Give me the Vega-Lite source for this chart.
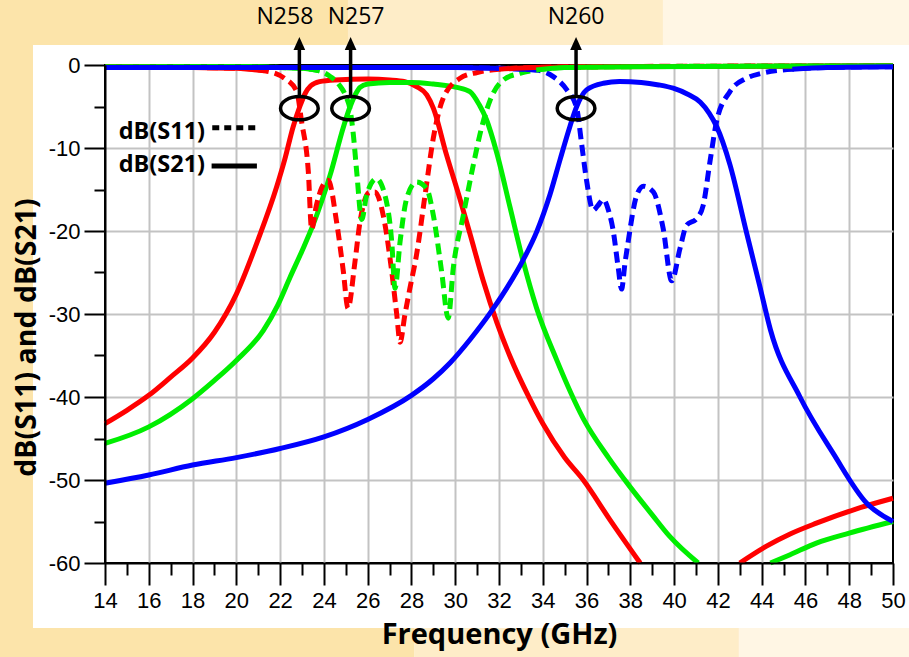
{
  "$schema": "https://vega.github.io/schema/vega-lite/v6.json",
  "width": 788,
  "height": 498,
  "autosize": {"type": "none"},
  "padding": {"left": 105, "top": 65, "right": 16, "bottom": 94},
  "background": "white",
  "config": {"view": {"stroke": "black", "strokeWidth": 2, "fill": null}},
  "datasets": {
    "one": [{}],
    "s21": [
      {"b":"N258","s":"a","f":14,"db":-43.2},{"b":"N258","s":"a","f":15,"db":-41.6},{"b":"N258","s":"a","f":16,"db":-39.8},{"b":"N258","s":"a","f":17,"db":-37.6},{"b":"N258","s":"a","f":18,"db":-35.3},{"b":"N258","s":"a","f":19,"db":-32.2},{"b":"N258","s":"a","f":20,"db":-27.6},{"b":"N258","s":"a","f":21,"db":-21.0},{"b":"N258","s":"a","f":21.84,"db":-14.7},{"b":"N258","s":"a","f":22.2,"db":-11.5},{"b":"N258","s":"a","f":22.6,"db":-7.4},{"b":"N258","s":"a","f":22.9,"db":-5.0},{"b":"N258","s":"a","f":23.15,"db":-3.4},{"b":"N258","s":"a","f":23.4,"db":-2.5},{"b":"N258","s":"a","f":23.8,"db":-2.0},{"b":"N258","s":"a","f":24.5,"db":-1.8},{"b":"N258","s":"a","f":26,"db":-1.7},{"b":"N258","s":"a","f":27,"db":-1.8},{"b":"N258","s":"a","f":27.7,"db":-2.0},{"b":"N258","s":"a","f":28.23,"db":-2.6},{"b":"N258","s":"a","f":28.7,"db":-3.6},{"b":"N258","s":"a","f":29.0,"db":-5.2},{"b":"N258","s":"a","f":29.6,"db":-10.8},{"b":"N258","s":"a","f":30.2,"db":-16.0},{"b":"N258","s":"a","f":30.67,"db":-20.3},{"b":"N258","s":"a","f":31.28,"db":-26.0},{"b":"N258","s":"a","f":31.9,"db":-31.0},{"b":"N258","s":"a","f":32.5,"db":-35.1},{"b":"N258","s":"a","f":33.4,"db":-40.2},{"b":"N258","s":"a","f":34.0,"db":-43.2},{"b":"N258","s":"a","f":35.0,"db":-47.3},{"b":"N258","s":"a","f":35.85,"db":-50.0},{"b":"N258","s":"a","f":37.07,"db":-54.8},{"b":"N258","s":"a","f":38.45,"db":-60},
      {"b":"N258","s":"b","f":43.0,"db":-60},{"b":"N258","s":"b","f":44.2,"db":-58},{"b":"N258","s":"b","f":45.3,"db":-56.5},{"b":"N258","s":"b","f":46.5,"db":-55.2},{"b":"N258","s":"b","f":48.3,"db":-53.5},{"b":"N258","s":"b","f":50,"db":-52.2},
      {"b":"N257","s":"a","f":14,"db":-45.6},{"b":"N257","s":"a","f":16,"db":-43.6},{"b":"N257","s":"a","f":18,"db":-40.2},{"b":"N257","s":"a","f":19,"db":-38.0},{"b":"N257","s":"a","f":20,"db":-35.6},{"b":"N257","s":"a","f":21.23,"db":-32.0},{"b":"N257","s":"a","f":21.9,"db":-28.9},{"b":"N257","s":"a","f":22.45,"db":-25.6},{"b":"N257","s":"a","f":23.0,"db":-22.4},{"b":"N257","s":"a","f":23.5,"db":-19.3},{"b":"N257","s":"a","f":24.28,"db":-13.3},{"b":"N257","s":"a","f":24.9,"db":-7.4},{"b":"N257","s":"a","f":25.2,"db":-5.0},{"b":"N257","s":"a","f":25.45,"db":-3.5},{"b":"N257","s":"a","f":25.65,"db":-2.7},{"b":"N257","s":"a","f":26,"db":-2.3},{"b":"N257","s":"a","f":27,"db":-2.1},{"b":"N257","s":"a","f":28,"db":-2.1},{"b":"N257","s":"a","f":29,"db":-2.3},{"b":"N257","s":"a","f":30.07,"db":-2.7},{"b":"N257","s":"a","f":30.67,"db":-3.2},{"b":"N257","s":"a","f":31.1,"db":-4.8},{"b":"N257","s":"a","f":31.43,"db":-6.6},{"b":"N257","s":"a","f":31.9,"db":-10.6},{"b":"N257","s":"a","f":32.5,"db":-17.1},{"b":"N257","s":"a","f":33.1,"db":-23.6},{"b":"N257","s":"a","f":33.72,"db":-29.3},{"b":"N257","s":"a","f":34.63,"db":-35.5},{"b":"N257","s":"a","f":35.85,"db":-42.6},{"b":"N257","s":"a","f":37.0,"db":-47.3},{"b":"N257","s":"a","f":37.98,"db":-50.8},{"b":"N257","s":"a","f":39.0,"db":-54.2},{"b":"N257","s":"a","f":39.8,"db":-56.8},{"b":"N257","s":"a","f":41.1,"db":-60},
      {"b":"N257","s":"b","f":44.4,"db":-60},{"b":"N257","s":"b","f":45.3,"db":-59},{"b":"N257","s":"b","f":46.5,"db":-57.6},{"b":"N257","s":"b","f":48,"db":-56.4},{"b":"N257","s":"b","f":50,"db":-55.0},
      {"b":"N260","s":"a","f":14,"db":-50.4},{"b":"N260","s":"a","f":16,"db":-49.4},{"b":"N260","s":"a","f":18,"db":-48.2},{"b":"N260","s":"a","f":20,"db":-47.3},{"b":"N260","s":"a","f":22,"db":-46.2},{"b":"N260","s":"a","f":24,"db":-44.8},{"b":"N260","s":"a","f":26,"db":-42.7},{"b":"N260","s":"a","f":28,"db":-39.8},{"b":"N260","s":"a","f":29,"db":-37.8},{"b":"N260","s":"a","f":29.76,"db":-35.9},{"b":"N260","s":"a","f":30.67,"db":-33.1},{"b":"N260","s":"a","f":31.59,"db":-29.9},{"b":"N260","s":"a","f":32.65,"db":-25.6},{"b":"N260","s":"a","f":33.1,"db":-23.5},{"b":"N260","s":"a","f":33.72,"db":-20.1},{"b":"N260","s":"a","f":34.33,"db":-15.6},{"b":"N260","s":"a","f":34.79,"db":-11.4},{"b":"N260","s":"a","f":35.24,"db":-7.4},{"b":"N260","s":"a","f":35.55,"db":-5.0},{"b":"N260","s":"a","f":36.0,"db":-3.0},{"b":"N260","s":"a","f":36.77,"db":-2.2},{"b":"N260","s":"a","f":37.5,"db":-2.0},{"b":"N260","s":"a","f":38.5,"db":-2.1},{"b":"N260","s":"a","f":39.3,"db":-2.4},{"b":"N260","s":"a","f":39.96,"db":-2.8},{"b":"N260","s":"a","f":40.6,"db":-3.5},{"b":"N260","s":"a","f":41.2,"db":-4.5},{"b":"N260","s":"a","f":41.6,"db":-5.8},{"b":"N260","s":"a","f":41.94,"db":-7.4},{"b":"N260","s":"a","f":42.55,"db":-12.0},{"b":"N260","s":"a","f":43.3,"db":-20.1},{"b":"N260","s":"a","f":43.9,"db":-26.5},{"b":"N260","s":"a","f":44.4,"db":-31.9},{"b":"N260","s":"a","f":45.75,"db":-40.0},{"b":"N260","s":"a","f":47.27,"db":-46.8},{"b":"N260","s":"a","f":48.8,"db":-52.8},{"b":"N260","s":"a","f":50,"db":-55.0}
    ],
    "s11": [
      {"b":"N258","f":14,"db":-0.2},{"b":"N258","f":18,"db":-0.3},{"b":"N258","f":20,"db":-0.4},{"b":"N258","f":21.3,"db":-0.7},{"b":"N258","f":22.2,"db":-1.6},{"b":"N258","f":22.76,"db":-3.2},{"b":"N258","f":22.98,"db":-6.8},{"b":"N258","f":23.29,"db":-12.9},{"b":"N258","f":23.44,"db":-19.8},{"b":"N258","f":23.65,"db":-17.0},{"b":"N258","f":23.9,"db":-14.8},{"b":"N258","f":24.2,"db":-13.9},{"b":"N258","f":24.58,"db":-18.9},{"b":"N258","f":24.89,"db":-24.9},{"b":"N258","f":25.1,"db":-29.3},{"b":"N258","f":25.42,"db":-23.7},{"b":"N258","f":25.65,"db":-18.9},{"b":"N258","f":26.1,"db":-15.3},{"b":"N258","f":26.33,"db":-15.3},{"b":"N258","f":26.71,"db":-18.1},{"b":"N258","f":27.1,"db":-24.9},{"b":"N258","f":27.33,"db":-30.1},{"b":"N258","f":27.48,"db":-33.4},{"b":"N258","f":27.7,"db":-30.1},{"b":"N258","f":27.93,"db":-26.9},{"b":"N258","f":28.23,"db":-22.9},{"b":"N258","f":28.62,"db":-15.7},{"b":"N258","f":29.0,"db":-8.8},{"b":"N258","f":29.45,"db":-4.0},{"b":"N258","f":30.22,"db":-1.6},{"b":"N258","f":31.0,"db":-0.9},{"b":"N258","f":32,"db":-0.5},{"b":"N258","f":33.57,"db":-0.3},{"b":"N258","f":36,"db":-0.2},{"b":"N258","f":50,"db":-0.1},
      {"b":"N257","f":14,"db":-0.2},{"b":"N257","f":20,"db":-0.2},{"b":"N257","f":22,"db":-0.3},{"b":"N257","f":23,"db":-0.4},{"b":"N257","f":23.8,"db":-0.7},{"b":"N257","f":24.3,"db":-1.4},{"b":"N257","f":24.7,"db":-2.4},{"b":"N257","f":25.04,"db":-4.0},{"b":"N257","f":25.2,"db":-5.4},{"b":"N257","f":25.35,"db":-8.5},{"b":"N257","f":25.5,"db":-12.9},{"b":"N257","f":25.73,"db":-18.6},{"b":"N257","f":25.95,"db":-15.7},{"b":"N257","f":26.4,"db":-13.7},{"b":"N257","f":26.79,"db":-15.7},{"b":"N257","f":27.1,"db":-21.3},{"b":"N257","f":27.25,"db":-26.9},{"b":"N257","f":27.48,"db":-21.3},{"b":"N257","f":27.78,"db":-16.1},{"b":"N257","f":28.23,"db":-14.1},{"b":"N257","f":28.7,"db":-14.9},{"b":"N257","f":29.0,"db":-18.1},{"b":"N257","f":29.38,"db":-24.9},{"b":"N257","f":29.68,"db":-30.5},{"b":"N257","f":29.91,"db":-24.5},{"b":"N257","f":30.37,"db":-18.1},{"b":"N257","f":30.83,"db":-12.0},{"b":"N257","f":31.2,"db":-7.6},{"b":"N257","f":31.6,"db":-4.2},{"b":"N257","f":32.2,"db":-1.8},{"b":"N257","f":32.96,"db":-1.0},{"b":"N257","f":33.7,"db":-0.6},{"b":"N257","f":35,"db":-0.3},{"b":"N257","f":38,"db":-0.2},{"b":"N257","f":50,"db":-0.1},
      {"b":"N260","f":14,"db":-0.3},{"b":"N260","f":20,"db":-0.3},{"b":"N260","f":30,"db":-0.3},{"b":"N260","f":32,"db":-0.4},{"b":"N260","f":33.2,"db":-0.5},{"b":"N260","f":33.72,"db":-0.6},{"b":"N260","f":34.48,"db":-1.4},{"b":"N260","f":35.1,"db":-3.0},{"b":"N260","f":35.55,"db":-5.2},{"b":"N260","f":35.77,"db":-9.4},{"b":"N260","f":36.0,"db":-13.9},{"b":"N260","f":36.3,"db":-17.5},{"b":"N260","f":36.5,"db":-17.0},{"b":"N260","f":36.77,"db":-16.2},{"b":"N260","f":37.0,"db":-17.5},{"b":"N260","f":37.22,"db":-20.0},{"b":"N260","f":37.45,"db":-24.5},{"b":"N260","f":37.6,"db":-27.0},{"b":"N260","f":37.75,"db":-24.0},{"b":"N260","f":37.9,"db":-21.3},{"b":"N260","f":38.29,"db":-15.7},{"b":"N260","f":38.6,"db":-14.6},{"b":"N260","f":39.05,"db":-15.3},{"b":"N260","f":39.5,"db":-19.7},{"b":"N260","f":39.89,"db":-26.0},{"b":"N260","f":40.27,"db":-22.1},{"b":"N260","f":40.57,"db":-19.3},{"b":"N260","f":41.03,"db":-18.5},{"b":"N260","f":41.33,"db":-16.9},{"b":"N260","f":41.64,"db":-11.6},{"b":"N260","f":41.94,"db":-6.8},{"b":"N260","f":42.55,"db":-3.2},{"b":"N260","f":43.3,"db":-1.6},{"b":"N260","f":44,"db":-1.0},{"b":"N260","f":45.4,"db":-0.5},{"b":"N260","f":47,"db":-0.3},{"b":"N260","f":50,"db":-0.2}
    ],
    "marks": [
      {"label":"N258","f":22.88,"db":-5.2,"tf":22.22},
      {"label":"N257","f":25.22,"db":-5.2,"tf":25.47},
      {"label":"N260","f":35.52,"db":-5.2,"tf":35.52}
    ]
  },
  "resolve": {"axis": {"x": "independent", "y": "independent"}},
  "layer": [
    {"data": {"name": "one"}, "mark": {"type": "rect", "color": "#FCE4AA"},
     "encoding": {"x": {"datum": 9.0, "type": "quantitative", "scale": {"domain": [14, 50], "nice": false, "zero": false}, "axis": null}, "x2": {"datum": 10.71},
                  "y": {"datum": 8.5, "type": "quantitative", "scale": {"domain": [-60, 0], "nice": false, "zero": false}, "axis": null}, "y2": {"datum": -72}}},
    {"data": {"name": "one"}, "mark": {"type": "rect", "color": "#FCE4AA"},
     "encoding": {"x": {"datum": 9.0, "type": "quantitative", "scale": {"domain": [14, 50], "nice": false, "zero": false}, "axis": null}, "x2": {"datum": 25.1},
                  "y": {"datum": 8.5, "type": "quantitative", "scale": {"domain": [-60, 0], "nice": false, "zero": false}, "axis": null}, "y2": {"datum": 2.41}}},
    {"data": {"name": "one"}, "mark": {"type": "rect", "color": "#FEEDC8"},
     "encoding": {"x": {"datum": 25.1, "type": "quantitative", "scale": {"domain": [14, 50], "nice": false, "zero": false}, "axis": null}, "x2": {"datum": 39.49},
                  "y": {"datum": 8.5, "type": "quantitative", "scale": {"domain": [-60, 0], "nice": false, "zero": false}, "axis": null}, "y2": {"datum": 2.41}}},
    {"data": {"name": "one"}, "mark": {"type": "rect", "color": "#FFF6E4"},
     "encoding": {"x": {"datum": 39.49, "type": "quantitative", "scale": {"domain": [14, 50], "nice": false, "zero": false}, "axis": null}, "x2": {"datum": 51},
                  "y": {"datum": 8.5, "type": "quantitative", "scale": {"domain": [-60, 0], "nice": false, "zero": false}, "axis": null}, "y2": {"datum": 2.41}}},
    {"data": {"name": "one"}, "mark": {"type": "rect", "color": "#FCE4AA"},
     "encoding": {"x": {"datum": 9.0, "type": "quantitative", "scale": {"domain": [14, 50], "nice": false, "zero": false}, "axis": null}, "x2": {"datum": 28.12},
                  "y": {"datum": -67.83, "type": "quantitative", "scale": {"domain": [-60, 0], "nice": false, "zero": false}, "axis": null}, "y2": {"datum": -72}}},
    {"data": {"name": "one"}, "mark": {"type": "rect", "color": "#FEEDC8"},
     "encoding": {"x": {"datum": 28.12, "type": "quantitative", "scale": {"domain": [14, 50], "nice": false, "zero": false}, "axis": null}, "x2": {"datum": 42.96},
                  "y": {"datum": -67.83, "type": "quantitative", "scale": {"domain": [-60, 0], "nice": false, "zero": false}, "axis": null}, "y2": {"datum": -72}}},
    {"data": {"name": "one"}, "mark": {"type": "rect", "color": "#FFF6E4"},
     "encoding": {"x": {"datum": 42.96, "type": "quantitative", "scale": {"domain": [14, 50], "nice": false, "zero": false}, "axis": null}, "x2": {"datum": 51},
                  "y": {"datum": -67.83, "type": "quantitative", "scale": {"domain": [-60, 0], "nice": false, "zero": false}, "axis": null}, "y2": {"datum": -72}}},
    {"data": {"name": "s21"},
     "mark": {"type": "line", "strokeWidth": 5, "interpolate": "monotone", "strokeCap": "butt"},
     "encoding": {
       "x": {"field": "f", "type": "quantitative", "scale": {"domain": [14, 50], "nice": false, "zero": false},
             "axis": {"orient": "bottom", "grid": true, "gridColor": "#c3c3c3", "gridWidth": 2, "values": [16,18,20,22,24,26,28,30,32,34,36,38,40,42,44,46,48], "ticks": false, "labels": false, "domain": false, "title": null, "zindex": 0}},
       "y": {"field": "db", "type": "quantitative", "scale": {"domain": [-60, 0], "nice": false, "zero": false},
             "axis": {"orient": "left", "grid": true, "gridColor": "#c3c3c3", "gridWidth": 2, "values": [-10,-20,-30,-40,-50], "ticks": false, "labels": false, "domain": false, "title": null, "zindex": 0}},
       "color": {"field": "b", "type": "nominal", "scale": {"domain": ["N258", "N257", "N260"], "range": ["#ff0000", "#00ee00", "#0000ff"]}, "legend": null},
       "detail": {"field": "s"}
     }},
    {"data": {"name": "s11"},
     "mark": {"type": "line", "strokeWidth": 5, "interpolate": "monotone", "strokeDash": [11, 6], "strokeCap": "butt"},
     "encoding": {
       "x": {"field": "f", "type": "quantitative", "scale": {"domain": [14, 50], "nice": false, "zero": false},
             "axis": {"orient": "bottom", "grid": false, "values": [14,16,18,20,22,24,26,28,30,32,34,36,38,40,42,44,46,48,50], "tickSize": 22, "tickWidth": 2, "tickColor": "black", "domainColor": "black", "domainWidth": 2, "labelFont": "Liberation Sans", "labelFontSize": 22, "labelColor": "black", "labelPadding": 5, "labelFlush": false, "labelOverlap": false, "labelExpr": "toString(datum.value)", "title": "Frequency (GHz)", "titleFont": "Open Sans", "titleFontSize": 29, "titleFontWeight": "bold", "titleColor": "black", "titleY": 80, "titleBaseline": "alphabetic", "zindex": 1}},
       "y": {"field": "db", "type": "quantitative", "scale": {"domain": [-60, 0], "nice": false, "zero": false},
             "axis": {"orient": "left", "grid": false, "values": [0,-10,-20,-30,-40,-50,-60], "tickSize": 21, "tickWidth": 2, "tickColor": "black", "domainColor": "black", "domainWidth": 2, "labelFont": "Liberation Sans", "labelFontSize": 22, "labelColor": "black", "labelPadding": 4, "labelFlush": false, "labelOverlap": false, "labelExpr": "toString(datum.value)", "title": "dB(S11) and dB(S21)", "titleFont": "Open Sans", "titleFontSize": 28.5, "titleFontWeight": "bold", "titleColor": "black", "titleX": -79, "titleY": 272, "titleAngle": -90, "titleAlign": "center", "titleBaseline": "middle", "zindex": 1}},
       "color": {"field": "b", "type": "nominal", "scale": {"domain": ["N258", "N257", "N260"], "range": ["#ff0000", "#00ee00", "#0000ff"]}, "legend": null}
     }},
    {"data": {"name": "s11"},
     "transform": [{"filter": "datum.db > -0.8 && ((datum.b != 'N260' && datum.f < 28) || (datum.b == 'N260' && datum.f < 40))"}],
     "mark": {"type": "line", "strokeWidth": 5, "interpolate": "monotone", "strokeCap": "butt"},
     "encoding": {
       "x": {"field": "f", "type": "quantitative", "scale": {"domain": [14, 50], "nice": false, "zero": false}, "axis": null},
       "y": {"field": "db", "type": "quantitative", "scale": {"domain": [-60, 0], "nice": false, "zero": false}, "axis": null},
       "color": {"field": "b", "type": "nominal", "scale": {"domain": ["N258", "N257", "N260"], "range": ["#ff0000", "#00ee00", "#0000ff"]}, "legend": null}
     }},
    {"data": {"name": "s11"},
     "transform": [{"filter": "datum.db > -0.8 && ((datum.b != 'N260' && datum.f >= 28) || (datum.b == 'N260' && datum.f >= 40))"}],
     "mark": {"type": "line", "strokeWidth": 5, "interpolate": "monotone", "strokeCap": "butt"},
     "encoding": {
       "x": {"field": "f", "type": "quantitative", "scale": {"domain": [14, 50], "nice": false, "zero": false}, "axis": null},
       "y": {"field": "db", "type": "quantitative", "scale": {"domain": [-60, 0], "nice": false, "zero": false}, "axis": null},
       "color": {"field": "b", "type": "nominal", "scale": {"domain": ["N258", "N257", "N260"], "range": ["#ff0000", "#00ee00", "#0000ff"]}, "legend": null}
     }},
    {"data": {"name": "marks"},
     "mark": {"type": "point", "shape": "M-1,0A1,0.62,0,1,0,1,0A1,0.62,0,1,0,-1,0Z", "size": 1420, "filled": false, "stroke": "black", "strokeWidth": 3.5, "opacity": 1},
     "encoding": {
       "x": {"field": "f", "type": "quantitative", "scale": {"domain": [14, 50], "nice": false, "zero": false},
             "axis": {"orient": "bottom", "grid": false, "values": [15,17,19,21,23,25,27,29,31,33,35,37,39,41,43,45,47,49], "tickSize": 12, "tickWidth": 2, "tickColor": "black", "labels": false, "domain": false, "title": null, "zindex": 1}},
       "y": {"field": "db", "type": "quantitative", "scale": {"domain": [-60, 0], "nice": false, "zero": false},
             "axis": {"orient": "left", "grid": false, "values": [-5,-15,-25,-35,-45,-55], "tickSize": 11, "tickWidth": 2, "tickColor": "black", "labels": false, "domain": false, "title": null, "zindex": 1}}
     }},
    {"data": {"name": "marks"},
     "mark": {"type": "rule", "color": "black", "strokeWidth": 3.5},
     "encoding": {
       "x": {"field": "f", "type": "quantitative", "scale": {"domain": [14, 50], "nice": false, "zero": false}, "axis": null},
       "y": {"datum": -3.8, "type": "quantitative", "scale": {"domain": [-60, 0], "nice": false, "zero": false}, "axis": null},
       "y2": {"datum": 2.0}
     }},
    {"data": {"name": "marks"},
     "mark": {"type": "point", "shape": "M0,-1L0.9,1L-0.9,1Z", "size": 169, "filled": true, "color": "black", "opacity": 1},
     "encoding": {
       "x": {"field": "f", "type": "quantitative", "scale": {"domain": [14, 50], "nice": false, "zero": false}, "axis": null},
       "y": {"datum": 2.59, "type": "quantitative", "scale": {"domain": [-60, 0], "nice": false, "zero": false}, "axis": null}
     }},
    {"data": {"name": "marks"},
     "mark": {"type": "text", "font": "Open Sans", "fontSize": 23, "color": "black", "align": "center", "baseline": "middle"},
     "encoding": {
       "x": {"field": "tf", "type": "quantitative", "scale": {"domain": [14, 50], "nice": false, "zero": false}, "axis": null},
       "y": {"datum": 5.8, "type": "quantitative", "scale": {"domain": [-60, 0], "nice": false, "zero": false}, "axis": null},
       "text": {"field": "label"}
     }},
    {"data": {"name": "one"},
     "mark": {"type": "text", "font": "Open Sans", "fontSize": 23.5, "fontWeight": "bold", "color": "black", "align": "right", "baseline": "alphabetic", "text": "dB(S11)"},
     "encoding": {
       "x": {"datum": 18.57, "type": "quantitative", "scale": {"domain": [14, 50], "nice": false, "zero": false}, "axis": null},
       "y": {"datum": -8.92, "type": "quantitative", "scale": {"domain": [-60, 0], "nice": false, "zero": false}, "axis": null}
     }},
    {"data": {"name": "one"},
     "mark": {"type": "text", "font": "Open Sans", "fontSize": 23.5, "fontWeight": "bold", "color": "black", "align": "right", "baseline": "alphabetic", "text": "dB(S21)"},
     "encoding": {
       "x": {"datum": 18.57, "type": "quantitative", "scale": {"domain": [14, 50], "nice": false, "zero": false}, "axis": null},
       "y": {"datum": -12.95, "type": "quantitative", "scale": {"domain": [-60, 0], "nice": false, "zero": false}, "axis": null}
     }},
    {"data": {"name": "one"},
     "mark": {"type": "rule", "color": "black", "strokeWidth": 5, "strokeDash": [7, 5], "strokeCap": "butt"},
     "encoding": {
       "x": {"datum": 18.9, "type": "quantitative", "scale": {"domain": [14, 50], "nice": false, "zero": false}, "axis": null},
       "x2": {"datum": 20.94},
       "y": {"datum": -7.55, "type": "quantitative", "scale": {"domain": [-60, 0], "nice": false, "zero": false}, "axis": null}
     }},
    {"data": {"name": "one"},
     "mark": {"type": "rule", "color": "black", "strokeWidth": 5, "strokeCap": "butt"},
     "encoding": {
       "x": {"datum": 18.87, "type": "quantitative", "scale": {"domain": [14, 50], "nice": false, "zero": false}, "axis": null},
       "x2": {"datum": 20.94},
       "y": {"datum": -12.17, "type": "quantitative", "scale": {"domain": [-60, 0], "nice": false, "zero": false}, "axis": null}
     }}
  ]
}
